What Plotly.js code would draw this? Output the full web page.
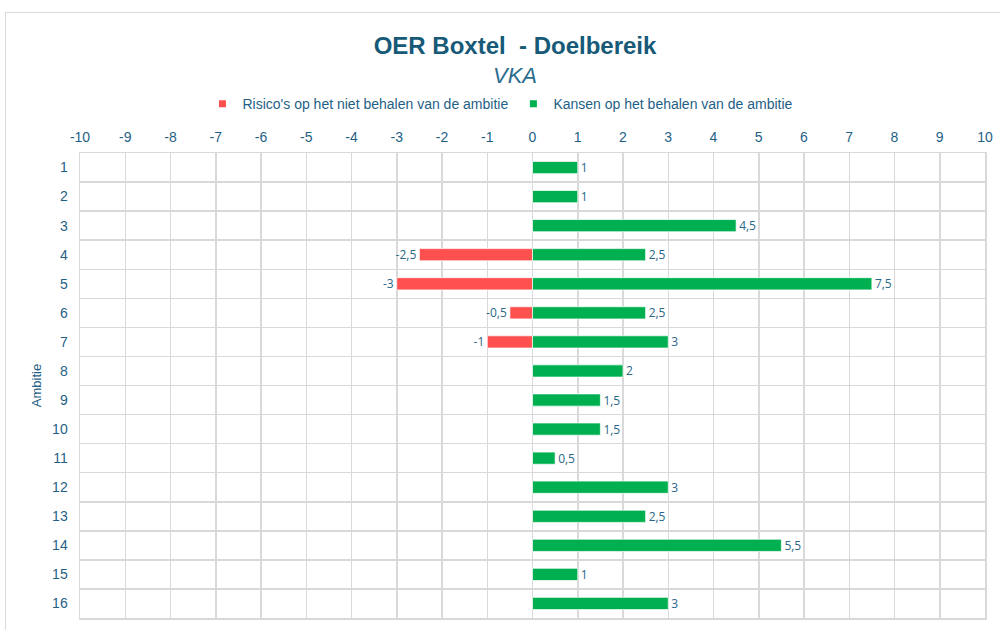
<!DOCTYPE html>
<html>
<head>
<meta charset="utf-8">
<script src="https://cdn.plot.ly/plotly-3.0.1.min.js"></script>
<style>
html,body{margin:0;padding:0;background:#fff;}
#wrap{position:relative;width:1000px;height:630px;overflow:hidden;}
#frame{position:absolute;left:5px;top:12px;width:1010px;height:640px;border:1px solid #d9d9d9;box-sizing:border-box;}
#chart{position:absolute;left:0;top:0;width:1000px;height:630px;}
</style>
</head>
<body>
<div id="wrap"><div id="frame"></div><div id="chart"></div></div>
<script>
const categories = ["1","2","3","4","5","6","7","8","9","10","11","12","13","14","15","16"];
const kansen = [1,1,4.5,2.5,7.5,2.5,3,2,1.5,1.5,0.5,3,2.5,5.5,1,3];
const risicos = [null,null,null,-2.5,-3,-0.5,-1,null,null,null,null,null,null,null,null,null];
const xTicks = [-10,-9,-8,-7,-6,-5,-4,-3,-2,-1,0,1,2,3,4,5,6,7,8,9,10];
const seriesNames = ["Risico's op het niet behalen van de ambitie", "Kansen op het behalen van de ambitie"];
const seriesColors = ["#ff5050", "#00b050"];

const fmt = v => (v === null ? "" : String(v).replace(".", ","));
const labelColor = "#2a6788";
const tickColor = "#1f5f86";
const font = "'Liberation Sans', Arial, sans-serif";

function barTrace(vals, i) {
  return {
    type: "bar", orientation: "h", name: seriesNames[i], legendgroup: "g" + i, showlegend: false,
    y: categories, x: vals, text: vals.map(fmt), textposition: "outside",
    textfont: {family: "'Open Sans', sans-serif", size: 12, color: labelColor},
    cliponaxis: false, constraintext: "none",
    marker: {color: seriesColors[i], line: {color: "rgba(255,255,255,0.7)", width: 1}},
    width: 0.42, hoverinfo: "x+y"
  };
}
function legendTrace(i) {
  return {
    type: "scatter", mode: "markers", name: seriesNames[i], legendgroup: "g" + i,
    x: [null], y: [null], showlegend: true,
    marker: {symbol: "square", size: 7, color: seriesColors[i]}, hoverinfo: "skip"
  };
}

const traces = [barTrace(risicos, 0), barTrace(kansen, 1), legendTrace(0), legendTrace(1)];

const layout = {
  width: 1000, height: 630,
  paper_bgcolor: "rgba(0,0,0,0)", plot_bgcolor: "#fff",
  margin: {l: 80, r: 15, t: 153, b: 12},
  barmode: "overlay",
  showlegend: true,
  title: {
    text: "<b>OER Boxtel  - Doelbereik</b>",
    font: {family: font, size: 24, color: "#175a78"},
    x: 0.515, xanchor: "center", y: 0.928, yanchor: "middle"
  },
  annotations: [{
    text: "<i>VKA</i>", xref: "paper", yref: "paper", x: 0.481, y: 1.1665,
    xanchor: "center", yanchor: "middle", showarrow: false,
    font: {family: font, size: 22, color: "#2a6c8e"}
  }],
  legend: {
    orientation: "h", x: 0.4646, xanchor: "center", y: 1.105, yanchor: "middle",
    font: {family: font, size: 14, color: tickColor},
    itemwidth: 30, tracegroupgap: 0
  },
  xaxis: {
    side: "top", range: [-10, 10], tickvals: xTicks, ticktext: xTicks.map(String),
    tickfont: {family: font, size: 14, color: tickColor},
    showgrid: true, gridcolor: "#d9d9d9", gridwidth: 1.5,
    zeroline: false, showline: true, mirror: true, linecolor: "#d9d9d9", linewidth: 1.5,
    ticks: "", ticklabelstandoff: 4, fixedrange: true
  },
  yaxis: {
    type: "category", autorange: "reversed", tickson: "boundaries",
    tickfont: {family: font, size: 14, color: tickColor},
    showgrid: true, gridcolor: "#d9d9d9", gridwidth: 1.5,
    showline: true, mirror: true, linecolor: "#d9d9d9", linewidth: 1.5,
    ticks: "", ticklabelstandoff: 8,
    title: {text: "Ambitie", font: {family: font, size: 13, color: tickColor}, standoff: 7},
    fixedrange: true
  }
};

Plotly.newPlot("chart", traces, layout, {displayModeBar: false, staticPlot: true});
</script>
</body>
</html>
